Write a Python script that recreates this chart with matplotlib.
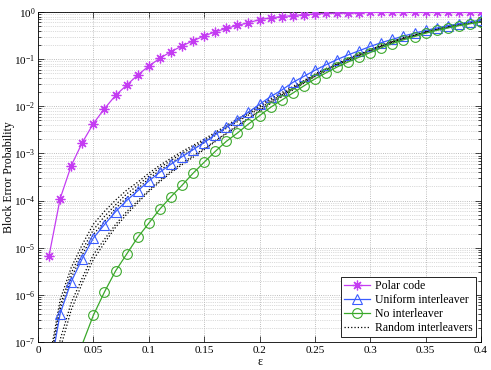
import matplotlib
matplotlib.use("Agg")
import matplotlib.pyplot as plt
import numpy as np
from matplotlib.ticker import LogLocator, NullFormatter, FixedLocator

plt.rcParams['font.family'] = ['Liberation Serif', 'DejaVu Serif']
plt.rcParams['mathtext.fontset'] = 'stix'

eps = [0.01, 0.02, 0.03, 0.04, 0.05, 0.06, 0.07, 0.08, 0.09, 0.10,
       0.11, 0.12, 0.13, 0.14, 0.15, 0.16, 0.17, 0.18, 0.19, 0.20,
       0.21, 0.22, 0.23, 0.24, 0.25, 0.26, 0.27, 0.28, 0.29, 0.30,
       0.31, 0.32, 0.33, 0.34, 0.35, 0.36, 0.37, 0.38, 0.39, 0.40]

polar = [6.8e-6, 1.1e-4, 5.5e-4, 1.7e-3, 4.3e-3, 8.9e-3, 1.7e-2, 2.8e-2, 4.6e-2, 7.1e-2,
         0.104, 0.144, 0.19, 0.245, 0.31, 0.38, 0.45, 0.52, 0.59, 0.69,
         0.75, 0.80, 0.84, 0.88, 0.91, 0.93, 0.95, 0.965, 0.975, 0.983,
         0.988, 0.991, 0.993, 0.995, 0.996, 0.997, 0.998, 0.9985, 0.999, 0.9995]

uniform = [1.9e-8, 4.0e-7, 1.9e-6, 5.9e-6, 1.6e-5, 3.1e-5, 5.8e-5, 1.0e-4, 1.6e-4, 2.6e-4,
           4.0e-4, 5.9e-4, 8.5e-4, 1.2e-3, 1.7e-3, 2.5e-3, 3.6e-3, 5.2e-3, 7.5e-3, 0.011,
           0.016, 0.022, 0.032, 0.043, 0.058, 0.076, 0.098, 0.123, 0.151, 0.186,
           0.224, 0.263, 0.309, 0.355, 0.407, 0.457, 0.513, 0.562, 0.617, 0.676]

eps_noint = [0.04, 0.05, 0.06, 0.07, 0.08, 0.09, 0.10,
             0.11, 0.12, 0.13, 0.14, 0.15, 0.16, 0.17, 0.18, 0.19, 0.20,
             0.21, 0.22, 0.23, 0.24, 0.25, 0.26, 0.27, 0.28, 0.29, 0.30,
             0.31, 0.32, 0.33, 0.34, 0.35, 0.36, 0.37, 0.38, 0.39, 0.40]
no_interleaver = [9e-8, 3.7e-7, 1.15e-6, 3.2e-6, 7.3e-6, 1.65e-5, 3.3e-5,
                  6.6e-5, 1.2e-4, 2.1e-4, 3.8e-4, 6.5e-4, 1.1e-3, 1.8e-3, 2.7e-3, 4.2e-3, 6.3e-3,
                  9.5e-3, 0.0135, 0.019, 0.027, 0.038, 0.051, 0.068, 0.087, 0.11, 0.138,
                  0.174, 0.214, 0.257, 0.302, 0.355, 0.407, 0.457, 0.513, 0.562, 0.617]

random1 = [3.8e-8, 7.9e-7, 3.8e-6, 1.17e-5, 3.16e-5, 5.9e-5, 1.02e-4, 1.66e-4, 2.45e-4, 3.8e-4,
           5.6e-4, 7.9e-4, 1.10e-3, 1.48e-3, 2.0e-3, 2.8e-3, 3.9e-3, 5.4e-3, 7.4e-3, 0.0102,
           0.0145, 0.0195, 0.026, 0.035, 0.048, 0.063, 0.081, 0.102, 0.129, 0.158,
           0.20, 0.24, 0.29, 0.33, 0.39, 0.44, 0.49, 0.55, 0.59, 0.65]
random2 = [2.9e-8, 6.0e-7, 2.9e-6, 8.9e-6, 2.4e-5, 4.6e-5, 8.1e-5, 1.38e-4, 2.1e-4, 3.3e-4,
           5.0e-4, 7.1e-4, 1.0e-3, 1.35e-3, 1.86e-3, 2.6e-3, 3.6e-3, 5.0e-3, 6.9e-3, 9.5e-3,
           0.0135, 0.018, 0.0245, 0.034, 0.047, 0.062, 0.079, 0.100, 0.126, 0.155,
           0.195, 0.234, 0.28, 0.32, 0.38, 0.44, 0.48, 0.54, 0.59, 0.63]
random3 = [2.3e-8, 4.8e-7, 2.3e-6, 7.1e-6, 1.9e-5, 3.6e-5, 6.8e-5, 1.15e-4, 1.78e-4, 2.9e-4,
           4.4e-4, 6.3e-4, 8.9e-4, 1.23e-3, 1.7e-3, 2.4e-3, 3.4e-3, 4.7e-3, 6.5e-3, 8.9e-3,
           0.0126, 0.0174, 0.024, 0.033, 0.046, 0.060, 0.078, 0.100, 0.123, 0.155,
           0.19, 0.234, 0.275, 0.32, 0.38, 0.43, 0.48, 0.54, 0.575, 0.63]
random4 = [3.8e-9, 1.12e-7, 6.8e-7, 2.3e-6, 7.1e-6, 1.51e-5, 3.1e-5, 5.8e-5, 9.8e-5, 1.66e-4,
           2.7e-4, 4.2e-4, 6.2e-4, 8.9e-4, 1.26e-3, 1.86e-3, 2.7e-3, 3.9e-3, 5.6e-3, 8.1e-3,
           0.012, 0.0166, 0.023, 0.0316, 0.0437, 0.0575, 0.076, 0.095, 0.12, 0.151,
           0.186, 0.229, 0.275, 0.316, 0.37, 0.427, 0.479, 0.525, 0.575, 0.63]
random5 = [2.1e-9, 7.1e-8, 4.8e-7, 1.78e-6, 5.6e-6, 1.26e-5, 2.7e-5, 5.1e-5, 8.9e-5, 1.55e-4,
           2.5e-4, 3.9e-4, 5.75e-4, 8.3e-4, 1.2e-3, 1.78e-3, 2.6e-3, 3.7e-3, 5.4e-3, 7.8e-3,
           0.0115, 0.0158, 0.022, 0.031, 0.0427, 0.056, 0.074, 0.093, 0.117, 0.148,
           0.182, 0.224, 0.269, 0.316, 0.363, 0.417, 0.468, 0.525, 0.575, 0.63]
random_series = [random1, random2, random3, random4, random5]

labels = ["Polar code", "Uniform interleaver", "No interleaver", "Random interleavers"]
xticks = [0, 0.05, 0.1, 0.15, 0.2, 0.25, 0.3, 0.35, 0.4]
xticklabels = ["0", "0.05", "0.1", "0.15", "0.2", "0.25", "0.3", "0.35", "0.4"]

YMIN, YMAX = 1e-7, 1.0

fig = plt.figure(figsize=(4.91, 3.70), dpi=100)
ax_w, ax_h = (481 - 38), (342 - 12)
ax = fig.add_axes([38/491, 28/370, ax_w/491, ax_h/370])

c_polar = '#c43cf2'
c_uni = '#3a5cff'
c_no = '#3aa82a'

def visible_mask(vals):
    return [v >= YMIN for v in vals]

for i, r in enumerate(random_series):
    ax.plot(eps, r, linestyle=':', color='black', linewidth=0.9,
            label=labels[3] if i == 0 else None, zorder=2)

ax.plot(eps, polar, color=c_polar, marker=(8, 2, 0), markersize=7, markeredgewidth=0.9,
        linewidth=0.9, markevery=visible_mask(polar), label=labels[0], zorder=3)
ax.plot(eps, uniform, color=c_uni, marker='^', markersize=7, markerfacecolor='none',
        markeredgewidth=0.8, linewidth=0.9, markevery=visible_mask(uniform),
        label=labels[1], zorder=3)
ax.plot(eps_noint, no_interleaver, color=c_no, marker='o', markersize=7,
        markerfacecolor='none', markeredgewidth=0.8, linewidth=0.9,
        markevery=visible_mask(no_interleaver), label=labels[2], zorder=3)

ax.set_yscale('log')
ax.set_xlim(0, 0.4)
ax.set_ylim(YMIN, YMAX)
ax.xaxis.set_major_locator(FixedLocator(xticks))
ax.set_xticklabels(xticklabels)
ax.yaxis.set_major_locator(LogLocator(base=10, numticks=20))
ax.yaxis.set_minor_locator(LogLocator(base=10, subs=np.arange(2, 10), numticks=100))
ax.yaxis.set_minor_formatter(NullFormatter())

ax.tick_params(which='both', direction='in', top=True, right=True, labelsize=8,
               width=0.5, colors='black')
ax.tick_params(which='major', length=4)
ax.tick_params(which='minor', length=2)
ax.tick_params(axis='x', pad=3)
ax.tick_params(axis='y', pad=2)

ax.grid(True, which='major', linestyle=':', color='#a8a8a8', linewidth=0.6)
ax.grid(True, which='minor', axis='y', linestyle=':', color='#b8b8b8', linewidth=0.5)
ax.set_axisbelow(True)
for s in ax.spines.values():
    s.set_linewidth(0.6)

ax.set_xlabel('ε', fontsize=8.5)
ax.set_ylabel('Block Error Probability', fontsize=8.5)
ax.xaxis.set_label_coords(0.5, -(356 - 342) / ax_h)
ax.yaxis.set_label_coords(-(38 - 15) / ax_w, 0.5)

handles, labs = ax.get_legend_handles_labels()
order = [labs.index(l) for l in labels]
leg = ax.legend([handles[i] for i in order], [labs[i] for i in order],
                loc='lower right', fontsize=8.5, frameon=True, fancybox=False,
                framealpha=1, edgecolor='black', borderpad=0.3, labelspacing=0.15,
                handlelength=2.2, handletextpad=0.4, borderaxespad=0.4, numpoints=1)
leg.get_frame().set_linewidth(0.6)

fig.savefig('out.png', dpi=100)
